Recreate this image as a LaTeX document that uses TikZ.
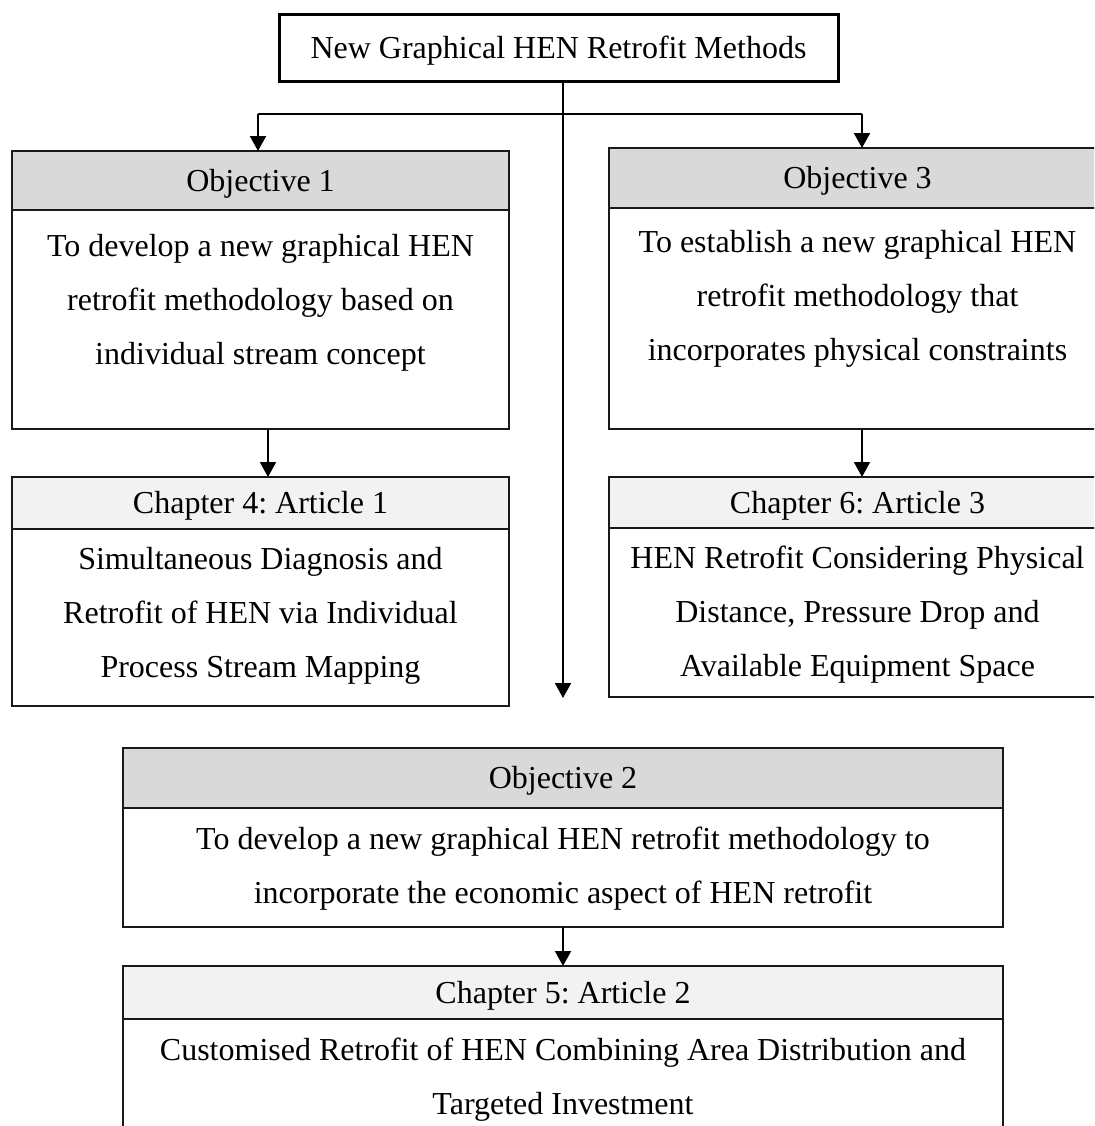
\documentclass[tikz,border=0pt]{standalone}
\usepackage{fontspec}
\setmainfont{Liberation Serif}
\usetikzlibrary{arrows.meta, positioning}
\definecolor{objgray}{HTML}{D9D9D9}
\definecolor{chapgray}{HTML}{F2F2F2}
\frenchspacing

\begin{document}
\begin{tikzpicture}[x=0.5pt, y=-0.5pt, >={Triangle[width=8pt,length=7.5pt]}, line width=1pt, node distance=0pt,
    every node/.style={font=\fontsize{16}{27}\selectfont, inner sep=0pt, outer sep=0pt},
    mainbox/.style={draw, line width=1.5pt, minimum width=279.5pt, minimum height=33.5pt, text height=13pt, text depth=2.5pt},
    objhead/.style={draw=black!90, line width=0.7pt, fill=objgray, text height=13pt, text depth=2.5pt},
    chaphead/.style={draw=black!90, line width=0.7pt, fill=chapgray, text height=13pt, text depth=2.5pt},
    bodybox/.style={draw=black!90, line width=0.7pt, fill=white},
    bodytext/.style={align=center}]
    \useasboundingbox (0,0) rectangle (1094,1126);
    \clip (0,0) rectangle (1094,1126);

    % top
    \node[mainbox] (top) at (558.5,47.5) {New Graphical HEN Retrofit Methods};

    % Objective 1 -> Chapter 4
    \node[objhead, minimum width=248.5pt, minimum height=29.5pt] (obj1h) at (260.5,180.5) {Objective 1};
    \node[bodybox, minimum width=248.5pt, minimum height=109.5pt, below=of obj1h] (obj1b) {};
    \node[bodytext] (obj1t) at (260.5,302.5) {To develop a new graphical HEN\\retrofit methodology based on\\individual stream concept};
    \node[chaphead, minimum width=248.5pt, minimum height=26pt] (chap4h) at (260.5,503) {Chapter 4: Article 1};
    \node[bodybox, minimum width=248.5pt, minimum height=88.5pt, below=of chap4h] (chap4b) {};
    \node[bodytext] (chap4t) at (260.5,616) {Simultaneous Diagnosis and\\Retrofit of HEN via Individual\\Process Stream Mapping};

    % Objective 3 -> Chapter 6
    \node[objhead, minimum width=248.5pt, minimum height=30pt] (obj3h) at (857.5,178) {Objective 3};
    \node[bodybox, minimum width=248.5pt, minimum height=110.5pt, below=of obj3h] (obj3b) {};
    \node[bodytext] (obj3t) at (857.5,298.5) {To establish a new graphical HEN\\retrofit methodology that\\incorporates physical constraints};
    \node[chaphead, minimum width=248.5pt, minimum height=25.5pt] (chap6h) at (857.5,502.5) {Chapter 6: Article 3};
    \node[bodybox, minimum width=248.5pt, minimum height=84.5pt, below=of chap6h] (chap6b) {};
    \node[bodytext] (chap6t) at (857.5,615) {HEN Retrofit Considering Physical\\Distance, Pressure Drop and\\Available Equipment Space};

    % Objective 2 -> Chapter 5
    \node[objhead, minimum width=440pt, minimum height=30pt] (obj2h) at (563,778) {Objective 2};
    \node[bodybox, minimum width=440pt, minimum height=59.5pt, below=of obj2h] (obj2b) {};
    \node[bodytext] (obj2t) at (563,868.5) {To develop a new graphical HEN retrofit methodology to\\incorporate the economic aspect of HEN retrofit};
    \node[chaphead, minimum width=440pt, minimum height=26.5pt] (chap5h) at (563,992.5) {Chapter 5: Article 2};
    \node[bodybox, minimum width=440pt, minimum height=58pt, below=of chap5h] (chap5b) {};
    \node[bodytext] (chap5t) at (563,1080) {Customised Retrofit of HEN Combining Area Distribution and\\Targeted Investment};

    % connectors
    \coordinate (barL) at (258,114);
    \coordinate (barR) at (862,114);
    \coordinate (stemend) at (563,698);
    \draw (barL) -- (barR);
    \draw[->] (top.south -| stemend) -- (stemend);
    \draw[->] (barL) -- (barL |- obj1h.north);
    \draw[->] (barR) -- (barR |- obj3h.north);
    \draw[->] ([xshift=3.75pt]obj1b.south) -- ([xshift=3.75pt]chap4h.north);
    \draw[->] ([xshift=2.25pt]obj3b.south) -- ([xshift=2.25pt]chap6h.north);
    \draw[->] (obj2b.south) -- (chap5h.north);
\end{tikzpicture}
\end{document}
